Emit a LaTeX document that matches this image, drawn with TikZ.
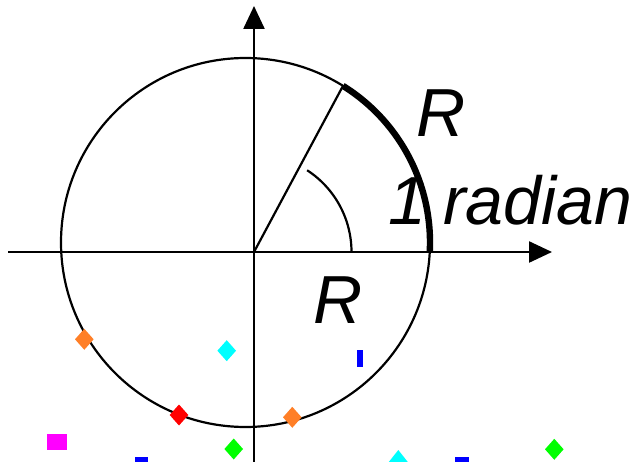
\documentclass[tikz,border=0pt]{standalone}
\usepackage{fontspec}
\setmainfont{Liberation Sans}
\usetikzlibrary{arrows.meta,calc}
\definecolor{mkorange}{RGB}{255,127,39}
\definecolor{mkcyan}{RGB}{0,255,255}
\definecolor{mkred}{RGB}{255,0,0}
\definecolor{mkgreen}{RGB}{0,255,0}
\definecolor{mkblue}{RGB}{0,0,255}
\definecolor{mkmagenta}{RGB}{255,0,255}
\tikzset{
  axisline/.style={line width=2.4pt, -{Triangle[length=23pt,width=21pt]}},
  thinline/.style={line width=2.2pt},
  thickarc/.style={line width=6.4pt},
  bigtext/.style={font=\fontsize{68}{80}\selectfont\itshape, inner sep=0pt, anchor=base west},
}
\newcommand\mkdmd[3]{\fill[#1] (#2,#3) +(0,-10.5) -- +(9.3,0) -- +(0,10.5) -- +(-9.3,0) -- cycle;}
\begin{document}
\begin{tikzpicture}[x=1pt,y=1pt]
\useasboundingbox (0,0) rectangle (640,461);
\begin{scope}
\clip (0,0) rectangle (640,461);
\coordinate (O) at (254,209);
\coordinate (C) at (245.5,218.5);
\coordinate (xl) at (8,209);
\coordinate (xr) at (552,209);
\coordinate (yb) at (254,-2);
\coordinate (yt) at (254,455);
% circle
\draw[thinline] (C) circle (184.5);
% axes
\draw[axisline] (xl) -- (xr);
\draw[axisline] (yb) -- (yt);
% radius line
\coordinate (P) at ($(C)+(58.1:184.5)$);
\draw[thinline] (O) -- (P);
% thick arc
\draw[thickarc] (P) arc[start angle=58.1, end angle=-2.6, radius=184.5];
% angle arc
\draw[thinline] ($(O)+(0:97.5)$) arc[start angle=0, end angle=57, radius=97.5];
% labels
\node[bigtext] (Rtop) at (416,324) {R};
\node[bigtext] (one) at (388,236) {1};
\node[bigtext] (rad) at (443,236) {radian};
\node[bigtext] (Rbot) at (313,138) {R};
% markers
\mkdmd{mkorange}{84.3}{121.7}
\mkdmd{mkcyan}{226.7}{110.3}
\fill[mkblue] (357,94) rectangle (363,111);
\mkdmd{mkred}{179}{46}
\mkdmd{mkorange}{292.3}{43.7}
\fill[mkmagenta] (47,11) rectangle (67,27);
\mkdmd{mkgreen}{233.7}{12}
\fill[mkblue] (135,-2) rectangle (148,4);
\fill[mkcyan] (398.3,11) -- (411,-5) -- (385.6,-5) -- cycle;
\fill[mkblue] (455,-2) rectangle (469,4);
\mkdmd{mkgreen}{554.3}{11.7}
\end{scope}
\end{tikzpicture}
\end{document}
